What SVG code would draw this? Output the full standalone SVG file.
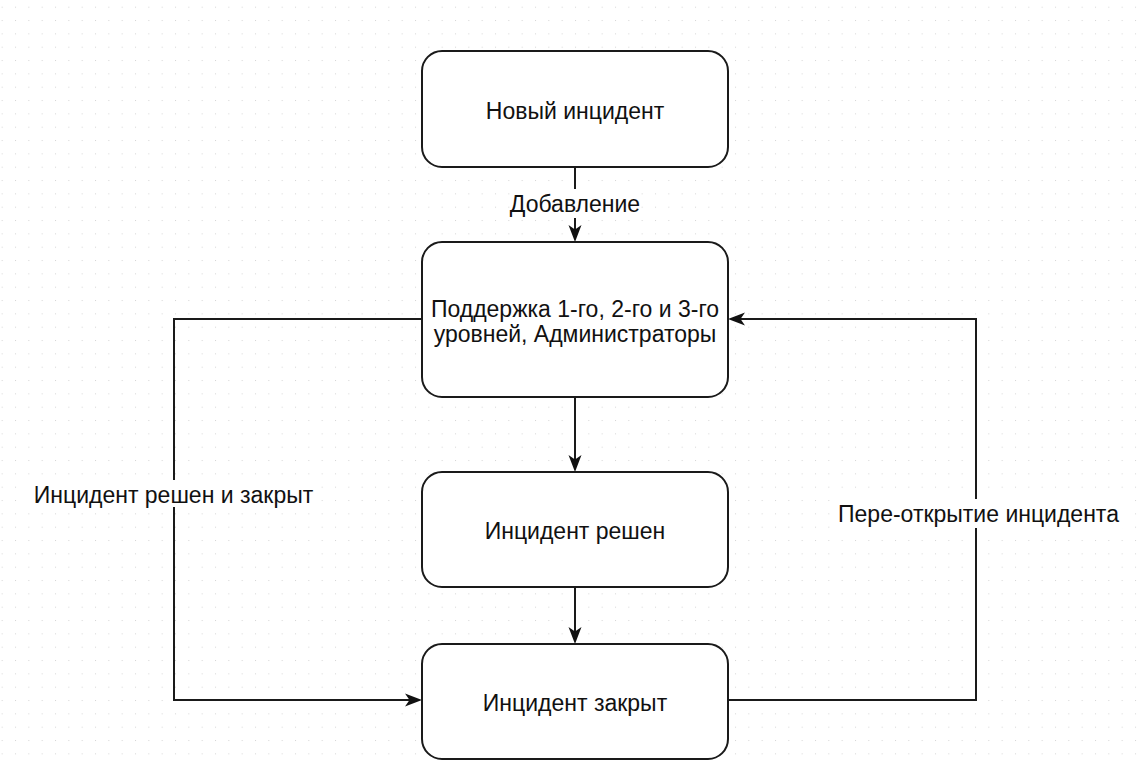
<svg xmlns="http://www.w3.org/2000/svg" width="1141" height="766" viewBox="0 0 1141 766">
  <defs>
    <pattern id="grid" x="1.67" y="6.7" width="13.333" height="13.333" patternUnits="userSpaceOnUse">
      <rect x="0" y="0" width="1" height="1" fill="#d6d6d6"/>
    </pattern>
    <!-- classic notched arrowhead; the tip sits 8px past the path end -->
    <marker id="arrow" markerUnits="userSpaceOnUse" markerWidth="17" markerHeight="14" viewBox="0 0 17 14" refX="9" refY="7" orient="auto">
      <path d="M0,0.5 L17,7 L0,13.5 L4.5,7 Z" fill="#111"/>
    </marker>
    <style>
      .node rect { fill: #ffffff; stroke: #1a1a1a; stroke-width: 2; }
      .node text, .label { font-family: "Liberation Sans", Arial, sans-serif; font-size: 23px; fill: #111; text-anchor: middle; }
      .edge { fill: none; stroke: #1a1a1a; stroke-width: 2; }
      .lbg { fill: #ffffff; }
    </style>
  </defs>

  <rect width="1141" height="766" fill="#ffffff"/>
  <rect width="1141" height="766" fill="url(#grid)"/>

  <g id="connectors">
    <path class="edge" d="M575,167 V234" marker-end="url(#arrow)"/>
    <path class="edge" d="M575,397 V464" marker-end="url(#arrow)"/>
    <path class="edge" d="M575,587 V636" marker-end="url(#arrow)"/>
    <path class="edge" d="M422,319 H174 V700 H414" marker-end="url(#arrow)"/>
    <path class="edge" d="M728,700 H976 V319 H736" marker-end="url(#arrow)"/>
    <rect class="lbg" x="510" y="189" width="130" height="29"/>
    <text class="label" x="575" y="212">Добавление</text>
    <rect class="lbg" x="28" y="480" width="292" height="27"/>
    <text class="label" x="173.5" y="503">Инцидент решен и закрыт</text>
    <rect class="lbg" x="833" y="499" width="292" height="29"/>
    <text class="label" x="978.5" y="521.5">Пере-открытие инцидента</text>
  </g>

  <g id="node-new" class="node">
    <rect x="422" y="51" width="306" height="116" rx="20" ry="20"/>
    <text x="575" y="119">Новый инцидент</text>
  </g>

  <g id="node-support" class="node">
    <rect x="422" y="242" width="306" height="155" rx="20" ry="20"/>
    <text x="575" y="316.5">Поддержка 1-го, 2-го и 3-го</text>
    <text x="575" y="341.5">уровней, Администраторы</text>
  </g>

  <g id="node-resolved" class="node">
    <rect x="422" y="472" width="306" height="115" rx="20" ry="20"/>
    <text x="575" y="538.5">Инцидент решен</text>
  </g>

  <g id="node-closed" class="node">
    <rect x="422" y="644" width="306" height="115" rx="20" ry="20"/>
    <text x="575" y="711">Инцидент закрыт</text>
  </g>
</svg>
